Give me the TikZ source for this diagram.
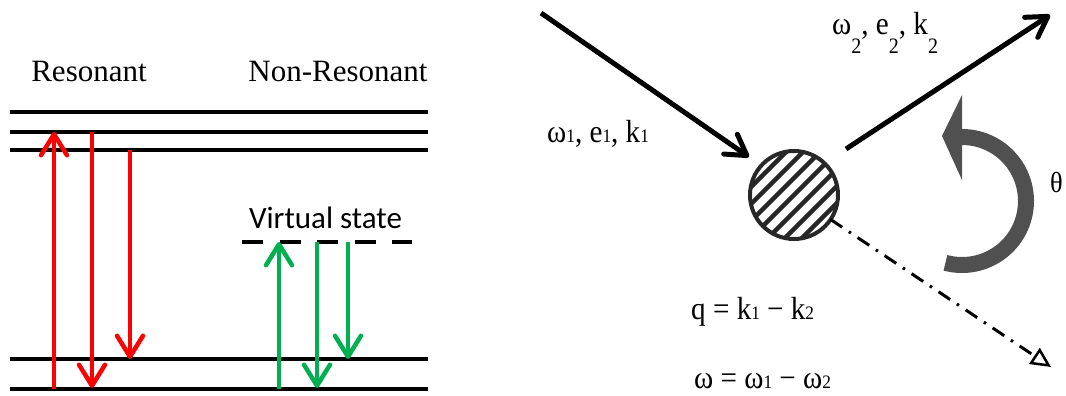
\documentclass[tikz,border=0pt]{standalone}
\usepackage{fontspec}
\setmainfont{Liberation Serif}
\newfontfamily\calibri{Carlito}
\usetikzlibrary{arrows.meta}
\definecolor{grn}{RGB}{0,176,80}
\definecolor{arrgray}{RGB}{80,80,80}
\definecolor{ringgray}{RGB}{40,40,40}
\newcommand\lsub[1]{{\fontsize{19}{19}\selectfont #1}}
\newcommand\dsub[1]{\raisebox{-0.58em}{\fontsize{22}{22}\selectfont #1}}
\newcommand\squeeze[1]{\scalebox{0.91}[1]{#1}}
\begin{document}
\begin{tikzpicture}[x=1pt,y=1pt,
  level/.style={line width=4pt},
  redarrow/.style={draw=red, line width=4.5pt, -{Straight Barb[length=21pt,width=26pt,round]}},
  grnarrow/.style={draw=grn, line width=4.5pt, -{Straight Barb[length=21pt,width=26pt,round]}},
  blkarrow/.style={line width=5pt, -{Straight Barb[length=20pt,width=24pt,round]}},
  ddarrow/.style={line width=3pt, dash pattern=on 14pt off 8pt on 2.5pt off 8pt, -{Triangle[open,length=20pt,width=19pt,line width=2.5pt]}},
  bigtxt/.style={font=\fontsize{31}{31}\selectfont, inner sep=0pt, anchor=base},
  lbl/.style={font=\fontsize{32}{32}\selectfont, inner sep=0pt, anchor=base west},
]
\useasboundingbox (0,0) rectangle (1066,396);

% ---------- left panel: levels ----------
\foreach \n/\y in {L1/284, L2/264, L3/246, G1/37, G0/7}{
  \coordinate (\n w) at (10,\y);
  \coordinate (\n e) at (428,\y);
  \draw[level] (\n w) -- (\n e);
}
\coordinate (VSw) at (242,154);
\coordinate (VSe) at (412,154);
\draw[level, dash pattern=on 21pt off 16.5pt] (VSw) -- (VSe);

\node[bigtxt] (res) at (89,314) {Resonant};
\node[bigtxt] (nres) at (338,314) {Non-Resonant};
\node[bigtxt, font=\calibri\fontsize{31}{31}\selectfont] (vs) at (325.5,167) {Virtual state};

% red arrows
\coordinate (r1a) at (54,7);   \coordinate (r1b) at (54,264);
\coordinate (r2a) at (92,264); \coordinate (r2b) at (92,8);
\coordinate (r3a) at (130,246);\coordinate (r3b) at (130,37);
\draw[redarrow] (r1a) -- (r1b);
\draw[redarrow] (r2a) -- (r2b);
\draw[redarrow] (r3a) -- (r3b);
% green arrows
\coordinate (g1a) at (279,7);   \coordinate (g1b) at (279,154);
\coordinate (g2a) at (317,154); \coordinate (g2b) at (317,8);
\coordinate (g3a) at (348,154); \coordinate (g3b) at (348,37);
\draw[grnarrow] (g1a) -- (g1b);
\draw[grnarrow] (g2a) -- (g2b);
\draw[grnarrow] (g3a) -- (g3b);

% ---------- right panel ----------
\node[circle, minimum size=88pt, inner sep=0pt, outer sep=0pt] (c) at (794,201) {};
\begin{scope}
  \clip (c.center) circle[radius=44];
  \foreach \i in {-7,...,7}
    \draw[line width=4.5pt, draw=black!85, shift={(c.center)}] (\i*17-70,-70) -- ++(140,140);
\end{scope}
\draw[line width=4pt, draw=ringgray] (c.center) circle[radius=44];

\coordinate (inS) at (541,383);
\coordinate (inT) at (749,239);
\coordinate (outS) at (846,247);
\coordinate (outT) at (1050,381);
\coordinate (ddT) at (1051,29);
\draw[blkarrow] (inS) -- (inT);
\draw[blkarrow] (outS) -- (outT);
\draw[ddarrow] (c) -- (ddT);

% rotation arrow
\coordinate (rotC) at (962,195);
\draw[line width=16pt, draw=arrgray] (rotC) ++(-105:64) arc[start angle=-105, end angle=90, radius=64];
\fill[arrgray] (962,301) -- (942,260) -- (962,216) -- cycle;
\node[inner sep=0pt, anchor=base west, font=\fontsize{29}{29}\selectfont] (theta) at (1050,203) {\squeeze{θ}};

% labels
\node[lbl] (l1) at (547,253) {\squeeze{ω\lsub{1}, e\lsub{1}, k\lsub{1}}};
\node[lbl] (l2) at (832,361) {\squeeze{ω\dsub{2}, e\dsub{2}, k\dsub{2}}};
\node[lbl] (lq) at (691,76) {\squeeze{q = k\lsub{1} − k\lsub{2}}};
\node[lbl] (lw) at (694,7) {\squeeze{ω = ω\lsub{1} − ω\lsub{2}}};
\end{tikzpicture}
\end{document}
